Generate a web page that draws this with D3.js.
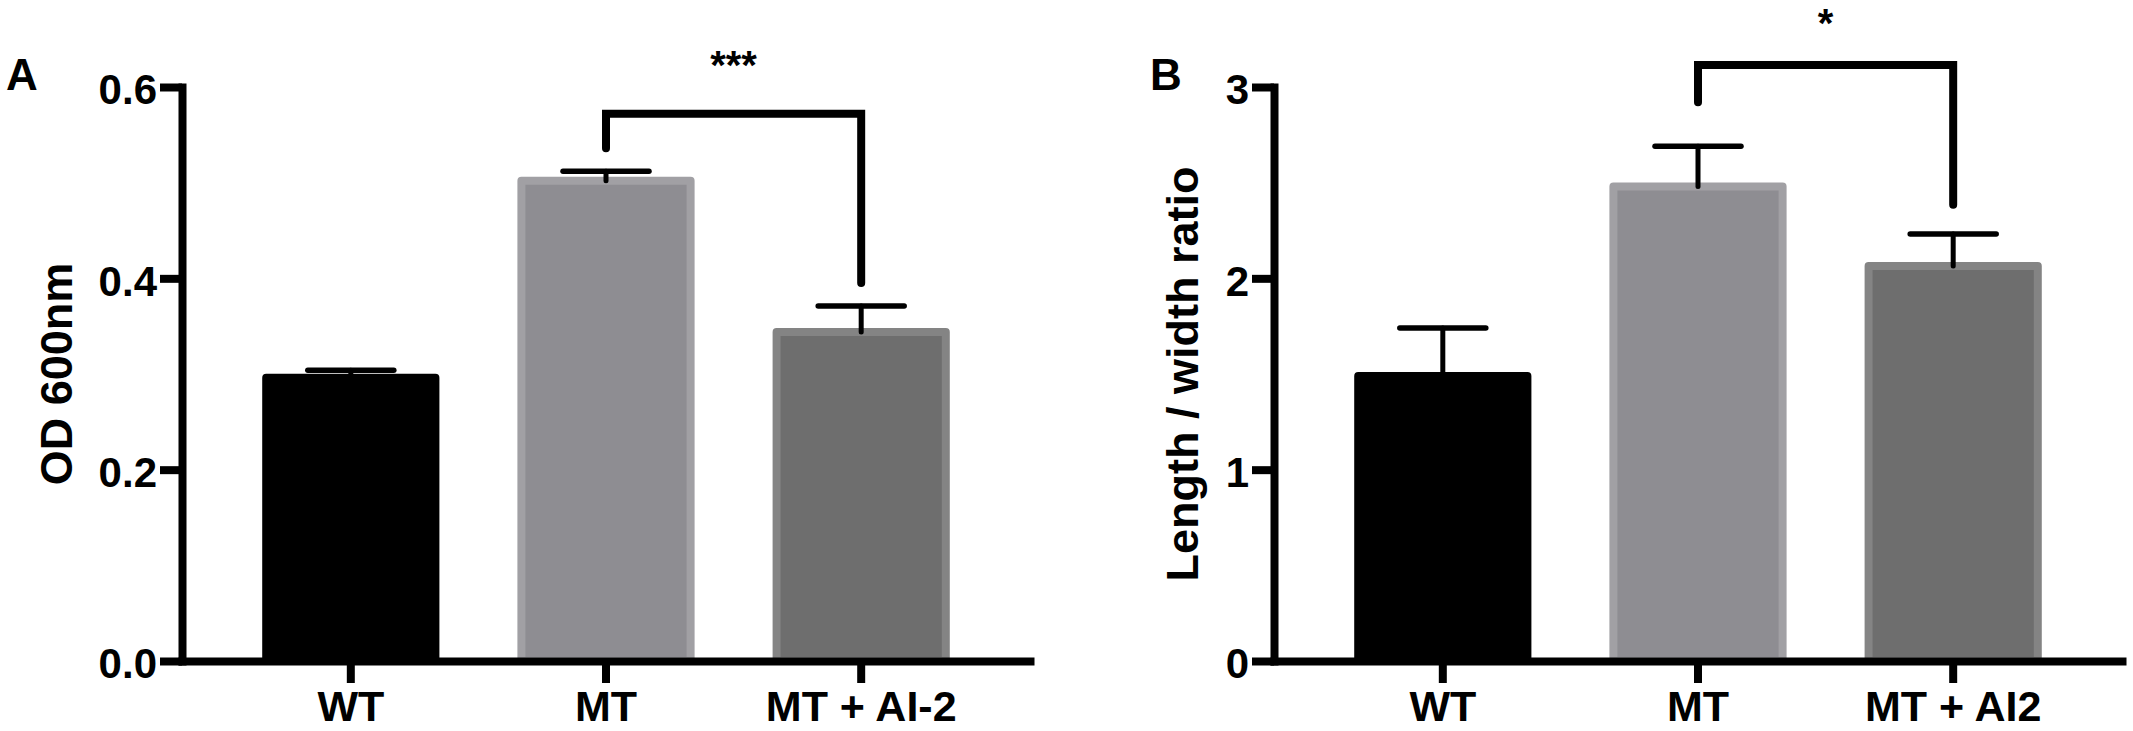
<!DOCTYPE html>
<html>
<head>
<meta charset="utf-8">
<script src="https://cdn.jsdelivr.net/npm/d3@7"></script>
<style>
  body { margin: 0; background: #fff; }
  svg { display: block; }
  text { font-family: "Liberation Sans", Arial, Helvetica, sans-serif; font-weight: bold; }
</style>
</head>
<body>
<script>
// ---- data ----
const groupsA = ['WT', 'MT', 'MT + AI-2'];
const odMean = [0.296, 0.502, 0.344];
const odSem = [0.008, 0.010, 0.027];
const odTicks = [0, 0.2, 0.4, 0.6];

const groupsB = ['WT', 'MT', 'MT + AI2'];
const ratioMean = [1.49, 2.48, 2.065];
const ratioSem = [0.25, 0.21, 0.167];
const ratioTicks = [0, 1, 2, 3];

// significance brackets: [left group, right group, top, left end, right end]
const sigA = ['MT', 'MT + AI-2', 0.572, 0.536, 0.395];
const sigB = ['MT', 'MT + AI2', 3.115, 2.92, 2.384];
const sigLabels = ['***', '*'];

const barFill = ['#000000', '#8e8d92', '#6e6e6e'];
const barEdge = ['#000000', '#a1a0a4', '#848484'];

const W = 2133, H = 731;
const svg = d3.select('body').append('svg')
  .attr('width', W)
  .attr('height', H);

let y0 = 661, yTop = 87;

function drawPanel(opt) {
  const g = svg.append('g');

  const x = d3.scaleBand()
    .domain(opt.groups)
    .range([opt.left, opt.left + 848])
    .paddingInner(0.337)
    .paddingOuter(0.33);

  const y = d3.scaleLinear()
    .domain([0, opt.max])
    .range([y0, yTop]);

  const rows = opt.groups.map((k, i) => ({ k, m: opt.mean[i], e: opt.sem[i], i }));

  // bars
  g.append('g').selectAll('rect')
    .data(rows)
    .enter()
    .append('rect')
    .attr('x', d => x(d.k))
    .attr('width', x.bandwidth())
    .attr('y', d => y(d.m))
    .attr('height', d => y(0) - y(d.m))
    .attr('fill', d => barFill[d.i])
    .attr('stroke', d => barEdge[d.i])
    .attr('stroke-width', 8)
    .attr('stroke-linejoin', 'round');

  // error bars (upper only)
  const eb = g.append('g')
    .attr('stroke', '#000')
    .attr('stroke-linecap', 'round')
    .selectAll('g')
    .data(rows)
    .enter()
    .append('g');

  eb.append('line')
    .attr('x1', d => x(d.k) + x.bandwidth() / 2)
    .attr('x2', d => x(d.k) + x.bandwidth() / 2)
    .attr('y1', d => y(d.m))
    .attr('y2', d => y(d.m + d.e))
    .attr('stroke-width', 5);

  eb.append('line')
    .attr('x1', d => x(d.k) + x.bandwidth() / 2 - 43)
    .attr('x2', d => x(d.k) + x.bandwidth() / 2 + 43)
    .attr('y1', d => y(d.m + d.e))
    .attr('y2', d => y(d.m + d.e))
    .attr('stroke-width', 5.5);

  // axes
  const yAxis = g.append('g')
    .attr('transform', `translate(${opt.left},0)`)
    .call(d3.axisLeft(y)
      .tickValues(opt.ticks)
      .tickFormat(opt.fmt)
      .tickSize(22)
      .tickSizeOuter(0)
      .tickPadding(3));

  const xAxis = g.append('g')
    .attr('transform', `translate(0,${y0})`)
    .call(d3.axisBottom(x)
      .tickSize(22)
      .tickSizeOuter(0)
      .tickPadding(7));

  [yAxis, xAxis].forEach(a => {
    a.attr('font-family', null).attr('font-size', null);
    a.select('.domain')
      .attr('stroke', '#000')
      .attr('stroke-width', 8)
      .attr('stroke-linecap', 'square');
    a.selectAll('.tick line')
      .attr('stroke', '#000')
      .attr('stroke-width', 8);
    a.selectAll('.tick text')
      .attr('fill', '#000')
      .style('font-size', '43px');
  });
  yAxis.selectAll('.tick text').attr('dy', '0.4em').style('font-size', '42px');

  // y label
  g.append('text')
    .attr('transform', `translate(${opt.labelX},${(y0 + yTop) / 2}) rotate(-90)`)
    .attr('text-anchor', 'middle')
    .style('font-size', '45px')
    .text(opt.ylabel);

  // panel letter
  g.append('text')
    .attr('x', opt.letterX)
    .attr('y', 90)
    .style('font-size', '44px')
    .text(opt.letter);

  // significance bracket
  const s = opt.sig;
  const xl = x(s[0]) + x.bandwidth() / 2,
        xr = x(s[1]) + x.bandwidth() / 2;
  g.append('path')
    .attr('d', `M${xl},${y(s[3])}V${y(s[2])}H${xr}V${y(s[4])}`)
    .attr('fill', 'none')
    .attr('stroke', '#000')
    .attr('stroke-width', 8)
    .attr('stroke-linecap', 'round')
    .attr('stroke-linejoin', 'miter');

  g.append('text')
    .attr('x', (xl + xr) / 2)
    .attr('y', y(s[2]) - opt.starGap)
    .attr('text-anchor', 'middle')
    .style('font-size', '40px')
    .text(opt.star);
}

drawPanel({
  groups: groupsA, mean: odMean, sem: odSem, ticks: odTicks, max: 0.6,
  fmt: d3.format('.1f'), left: 182, labelX: 72, ylabel: 'OD 600nm',
  letter: 'A', letterX: 6, sig: sigA, star: sigLabels[0], starGap: 35
});

drawPanel({
  groups: groupsB, mean: ratioMean, sem: ratioSem, ticks: ratioTicks, max: 3,
  fmt: d3.format('d'), left: 1274, labelX: 1198, ylabel: 'Length / width ratio',
  letter: 'B', letterX: 1150, sig: sigB, star: sigLabels[1], starGap: 28
});
</script>
</body>
</html>
